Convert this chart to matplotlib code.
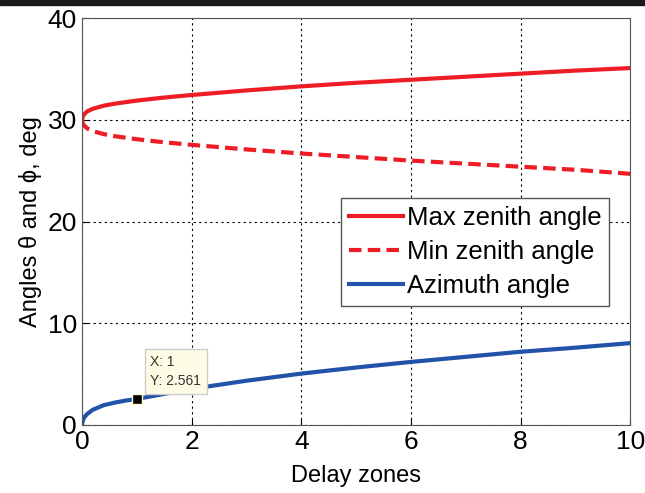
import matplotlib
matplotlib.use("Agg")
import matplotlib.pyplot as plt
from matplotlib.patches import Rectangle

plt.rcParams['font.family'] = ['Liberation Sans', 'DejaVu Sans']

# values
x = [0, 0.02, 0.05, 0.1, 0.2, 0.4, 0.6, 0.8, 1, 1.5, 2, 3, 4, 5, 6, 7, 8, 9, 10]
max_zen = [30.0, 30.4, 30.6, 30.85, 31.1, 31.4, 31.6, 31.75, 31.9, 32.2, 32.45, 32.9, 33.3, 33.65, 33.95, 34.25, 34.55, 34.85, 35.1]
min_zen = [30.0, 29.6, 29.4, 29.15, 28.9, 28.6, 28.4, 28.25, 28.1, 27.8, 27.55, 27.1, 26.7, 26.35, 26.0, 25.7, 25.4, 25.1, 24.7]
azimuth = [0.0, 0.5, 0.8, 1.1, 1.5, 1.95, 2.2, 2.4, 2.56, 3.05, 3.55, 4.35, 5.05, 5.65, 6.2, 6.7, 7.2, 7.6, 8.05]

tip_x, tip_y = 1, 2.561

fig = plt.figure(figsize=(6.45, 4.93), dpi=100)
ax = fig.add_axes([0.127, 0.138, 0.85, 0.825])

ax.plot(x, max_zen, color='#ee1c25', lw=3, label='Max zenith angle')
ax.plot(x, min_zen, color='#ee1c25', lw=3, ls=(0, (3, 1.5)), label='Min zenith angle')
ax.plot(x, azimuth, color='#2353a8', lw=3, label='Azimuth angle')

# data cursor
ax.plot([tip_x], [tip_y], 's', color='black', ms=7, mec='#ffffcc', mew=1, zorder=5)
ax.annotate(f'X: {tip_x}\nY: {tip_y}', xy=(tip_x, tip_y), xytext=(1.25, 3.9),
            fontsize=10, color='#333333', linespacing=1.5,
            bbox=dict(boxstyle='square,pad=0.4', fc='#fffce6', ec='#cccccc', lw=1))

ax.set_xlim(0, 10)
ax.set_ylim(0, 40)
ax.set_xticks([0, 2, 4, 6, 8, 10])
ax.set_yticks([0, 10, 20, 30, 40])
ax.grid(True, color='black', ls=(0, (2, 3)), lw=0.8)
ax.tick_params(labelsize=19, direction='in', length=4)
for s in ax.spines.values():
    s.set_color('#555555')

ax.set_xlabel('Delay zones', fontsize=17, labelpad=8)
ax.set_ylabel('Angles \u03b8 and \u03d5, deg', fontsize=17, labelpad=4)

leg = ax.legend(loc='upper left', bbox_to_anchor=(0.45, 0.59), fontsize=18.5,
                handlelength=2.1, handletextpad=0.15, borderpad=0.3,
                labelspacing=0.4, fancybox=False, framealpha=1)
leg.get_frame().set_edgecolor('#555555')

# dark band at the very top
fig.patches.append(Rectangle((0, 0.99), 1, 0.01, transform=fig.transFigure,
                             color='#1a1a1a', zorder=10))

fig.savefig('out.png', dpi=100)
